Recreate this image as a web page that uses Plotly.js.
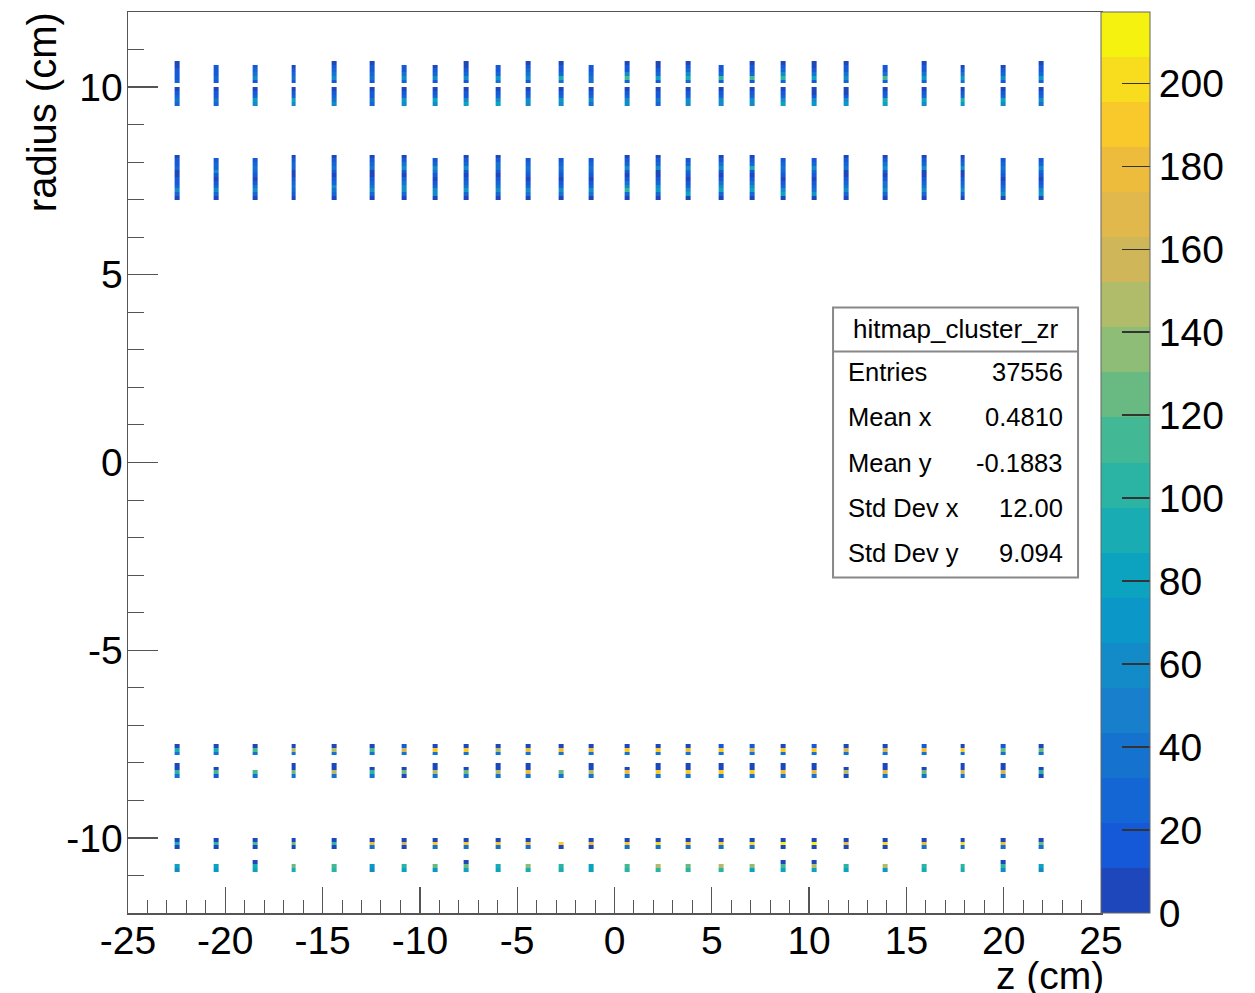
<!DOCTYPE html>
<html><head><meta charset="utf-8">
<script src="https://cdn.plot.ly/plotly-3.0.1.min.js"></script>
<style>html,body{margin:0;padding:0;background:#fff}#chart{width:1255px;height:993px}</style>
</head><body><div id="chart"></div>
<script>
// ---- data ----
const columnZ = [-22.48,-20.48,-18.46,-16.49,-14.43,-12.46,-10.83,-9.24,-7.62,-5.99,-4.43,-2.76,-1.19,0.66,2.24,3.79,5.47,7.05,8.67,10.27,11.91,13.89,15.92,17.89,19.95,21.93];
const binWidthZ = 0.25;
const binWidthR = 0.1;
const rRange = [-12, 12];
const zRange = [-25, 25];
const countMax = 217.2;
const zTicks = [-25,-20,-15,-10,-5,0,5,10,15,20,25];
const zTickText = ['-25','-20','-15','-10','-5','0','5','10','15','20','25'];
const rTicks = [-10,-5,0,5,10];
const rTickText = ['-10','-5','0','5','10'];
const countTicks = [0,20,40,60,80,100,120,140,160,180,200];

// cells listed from top to bottom for each column
// ring at r ~ 10.1..10.7 (lower edge 10.1)
const ringA = [
 [6,6,20,20,12,30],[12,20,20,30,20],[12,30,40,55,20],[6,20,30,40,20],[6,12,30,40,55,20],[6,12,20,30,40,20],
 [12,20,40,55,30],[6,20,30,55,20],[6,6,20,30,55,20],[12,20,30,75,40],[6,12,30,40,55,20],[6,12,20,30,90,40],
 [12,20,30,40,40],[6,12,20,55,110,30],[6,6,20,30,85,20],[6,12,30,55,95,30],[20,20,30,100,30],[6,12,20,30,110,20],
 [6,12,30,55,100,30],[6,6,20,40,80,20],[6,12,20,40,55,30],[12,20,40,110,30],[6,12,20,40,75,30],[6,20,40,75,40],
 [6,20,30,55,20],[6,12,20,30,75,30]];
// ring at r ~ 9.5..10.0 (lower edge 9.5)
const ringB = [
 [6,20,30,40,30],[6,12,20,40,30],[6,20,30,75,55],[6,20,30,80,55],[6,20,30,40,55],[6,20,20,40,30],
 [6,20,30,75,55],[6,20,30,85,55],[6,20,20,55,80],[6,20,30,55,80],[6,20,30,55,55],[6,20,30,75,55],
 [6,20,30,55,40],[6,20,30,55,55],[6,20,20,40,30],[6,20,30,55,55],[6,20,30,55,55],[6,20,30,55,55],
 [6,20,30,55,80],[6,6,20,55,75],[6,6,20,55,75],[6,20,30,95,80],[6,20,30,80,55],[6,20,30,90,75],
 [6,20,30,80,55],[6,20,30,55,40]];
// ring at r ~ 7.0..8.2 (lower edge 7.0)
const ringC = [
 [6,20,20,30,6,6,20,20,30,55,30,6],[20,30,30,55,12,6,20,30,55,30,6],[20,30,40,30,12,6,20,40,55,30,6],
 [6,20,30,30,6,6,20,30,40,30,20,6],[6,20,30,40,12,6,20,30,55,40,30,6],[6,20,30,40,6,6,20,30,40,55,30,6],
 [6,20,40,55,12,6,30,40,55,55,30,6],[20,30,55,40,12,6,20,30,55,55,6],[6,20,30,55,12,6,12,30,40,75,30,6],
 [6,20,40,40,12,6,20,30,40,55,30,6],[20,30,40,30,12,6,20,30,55,40,6],[20,30,40,30,12,6,20,30,55,40,6],
 [20,30,40,30,12,6,20,30,55,40,6],[6,20,30,55,12,6,20,40,55,100,30,6],[6,20,30,55,6,6,20,30,55,75,30,6],
 [20,30,55,30,12,6,20,30,55,85,6],[6,20,40,55,12,6,20,40,55,80,30,6],[6,20,30,90,12,6,20,40,55,85,30,6],
 [20,30,40,30,12,6,20,30,55,80,6],[20,30,55,30,12,6,20,30,40,75,6],[6,20,30,40,6,6,20,30,40,55,30,6],
 [6,20,40,55,12,6,20,40,40,55,30,6],[6,20,30,55,6,6,20,30,40,55,30,6],[6,20,30,55,6,6,20,30,40,55,30,6],
 [20,30,40,30,12,6,20,30,40,55,6],[20,30,55,30,12,6,20,30,55,75,6]];
// ring at r ~ -7.5..-7.8 (upper edge -7.5)
const ringD = [
 [6,90,40],[6,95,40],[6,110,40],[6,150,40],[6,150,40],[6,115,40],[20,160,40],[6,185,40],
 [6,185,40],[6,150,40],[6,175,40],[6,175,40],[6,180,40],[6,185,40],[6,185,40],[6,180,40],
 [20,185,40],[20,160,40],[6,190,40],[20,190,40],[6,155,40],[6,155,40],[20,175,40],[6,185,40],
 [20,130,40],[6,125,40]];
// ring at r ~ -8.0..-8.4 (lower edge -8.4)
const ringE = [
 [6,6,100,40],[6,110,12],[110,40],[6,6,130,40],[6,6,145,40],[6,100,40],[6,120,6],[6,6,150,40],
 [6,130,40],[6,6,145,40],[6,6,180,40],[130,40],[6,6,150,40],[6,180,40],[6,6,185,40],[6,6,185,40],
 [6,6,190,40],[6,6,185,40],[6,6,175,40],[6,6,170,40],[6,150,6],[6,6,170,40],[6,130,40],[6,6,155,40],
 [6,6,155,40],[6,100,6]];
// ring at r ~ -10.0..-10.3 (upper edge -10.0)
const ringF = [
 [6,95,6],[6,100,6],[6,110,6],[6,120,6],[6,100,6],[6,180,40],[6,160,6],[6,185,40],
 [6,185,40],[6,185,40],[6,180,40],[null,185,6],[6,180,6],[6,190,40],[6,200,40],[6,185,40],
 [6,185,40],[6,205,40],[6,210,6],[6,210,6],[6,175,6],[6,205,6],[6,175,40],[6,205,40],
 [6,175,40],[6,130,40]];
// ring at r ~ -10.6..-10.9 (lower edge -10.9)
const ringG = [
 [80,60],[85,70],[6,90,85],[120,90],[110,100],[70,65],[105,85],[130,75],
 [6,120,80],[90,80],[135,95],[100,95],[85,80],[115,100],[145,100],[125,100],
 [150,100],[135,80],[6,110,80],[6,145,80],[105,80],[145,75],[100,95],[100,95],
 [6,105,60],[80,60]];

const ringEdges = [10.1, 9.5, 7.0, -7.5, -8.4, -10.0, -10.9];
const ringAnchor = ['lower','lower','lower','upper','lower','upper','lower'];
const ringCells = [ringA, ringB, ringC, ringD, ringE, ringF, ringG];

const statLabels = ['Entries','Mean x','Mean y','Std Dev x','Std Dev y'];
const statValues = ['37556','0.4810','-0.1883','12.00','9.094'];
const histName = 'hitmap_cluster_zr';

const birdSteps = ['#1e47bb','#1558d8','#1366d4','#1572cf','#177fcb','#128bc8','#0b98c8','#0ca3c0','#1aacb3','#2bb4a4',
                   '#43b894','#68ba82','#8dbd76','#b1bc6a','#cfb658','#e1b84c','#eebc3c','#f9c82a','#f8dc1e','#f5f210'];

// ---- build histogram grid ----
const nR = Math.round((rRange[1]-rRange[0])/binWidthR);
const rCenters = [];
for (let j=0;j<nR;j++) rCenters.push(rRange[0]+(j+0.5)*binWidthR);
const xEdges = [];
columnZ.forEach(c => { xEdges.push(c-binWidthZ/2, c+binWidthZ/2); });
const nCols = xEdges.length-1;
const zGrid = [];
for (let j=0;j<nR;j++) zGrid.push(new Array(nCols).fill(null));
ringCells.forEach((ring, b) => {
  ring.forEach((cells, ci) => {
    const n = cells.length;
    cells.forEach((v, k) => {
      const rc = ringAnchor[b]==='lower' ? ringEdges[b] + (n-1-k+0.5)*binWidthR : ringEdges[b] - (k+0.5)*binWidthR;
      const j = Math.round((rc - rRange[0])/binWidthR - 0.5);
      if (j>=0 && j<nR) zGrid[j][2*ci] = v;
    });
  });
});

const colorscale = [];
birdSteps.forEach((c,i) => { colorscale.push([i/birdSteps.length, c]); colorscale.push([(i+1)/birdSteps.length, c]); });

const FONT = '"Liberation Sans", Arial, Helvetica, sans-serif';
const trace = {
  type:'heatmap', x:xEdges, y:rCenters, z:zGrid, zmin:0, zmax:countMax, zsmooth:false,
  colorscale:colorscale, hoverinfo:'skip',
  colorbar:{x:1, xanchor:'left', xpad:0, ypad:0, y:0.5, yanchor:'middle', len:1, lenmode:'fraction',
    thickness:49, thicknessmode:'pixels', outlinewidth:1, outlinecolor:'#666',
    tickvals:countTicks, ticks:'inside', ticklen:28, tickwidth:1.5, tickcolor:'#333',
    tickfont:{size:39, family:FONT, color:'#000'}}
};

// ---- stats box ----
const box = {x0:11.23, x1:23.82, y0:-3.06, y1:4.13, div:2.96};
const rowY = [2.40, 1.20, 0.0, -1.20, -2.40];
const annotations = [
  {text:'z (cm)', xref:'paper', yref:'paper', x:1.005, y:-0.069, xanchor:'right', yanchor:'middle', showarrow:false, font:{size:39, family:FONT, color:'#000'}},
  {text:'radius (cm)', xref:'paper', yref:'paper', x:-0.0884, y:1.002, xanchor:'center', yanchor:'top', textangle:-90, showarrow:false, font:{size:40, family:FONT, color:'#000'}},
  {text:histName, xref:'x', yref:'y', x:(box.x0+box.x1)/2, y:(box.y1+box.div)/2, xanchor:'center', yanchor:'middle', showarrow:false, font:{size:26, family:FONT, color:'#000'}}
];
statLabels.forEach((s,i) => {
  annotations.push({text:s, xref:'x', yref:'y', x:11.9, y:rowY[i], xanchor:'left', yanchor:'middle', showarrow:false, font:{size:25.5, family:FONT, color:'#000'}});
  annotations.push({text:statValues[i], xref:'x', yref:'y', x:23.15, y:rowY[i], xanchor:'right', yanchor:'middle', showarrow:false, font:{size:25.5, family:FONT, color:'#000'}});
});
const shapes = [
  {type:'rect', xref:'x', yref:'y', x0:box.x0, x1:box.x1, y0:box.y0, y1:box.y1, line:{color:'#888', width:2}, fillcolor:'#fff', layer:'above'},
  {type:'line', xref:'x', yref:'y', x0:box.x0, x1:box.x1, y0:box.div, y1:box.div, line:{color:'#888', width:2}, layer:'above'}
];

const axisCommon = {showgrid:false, zeroline:false, showline:true, linecolor:'#555', linewidth:1.5, mirror:true,
  ticks:'inside', tickcolor:'#555', tickwidth:1.2, tickfont:{size:39, family:FONT, color:'#000'}};
const layout = {
  width:1255, height:993, margin:{l:128, r:154, t:12, b:80, pad:0, autoexpand:false},
  paper_bgcolor:'#fff', plot_bgcolor:'#fff', showlegend:false,
  font:{family:FONT, color:'#000'},
  xaxis:Object.assign({}, axisCommon, {range:zRange, tickmode:'array', tickvals:zTicks, ticktext:zTickText, ticklen:26,
    ticklabelstandoff:-7,
    minor:{dtick:1, tick0:0, ticks:'inside', ticklen:13, tickcolor:'#555', tickwidth:1}}),
  yaxis:Object.assign({}, axisCommon, {range:rRange, tickmode:'array', tickvals:rTicks, ticktext:rTickText, ticklen:30,
    ticklabelstandoff:-4,
    minor:{dtick:1, tick0:0, ticks:'inside', ticklen:16, tickcolor:'#555', tickwidth:1}}),
  annotations:annotations, shapes:shapes
};
Plotly.newPlot('chart', [trace], layout, {displayModeBar:false, staticPlot:true});
</script></body></html>
